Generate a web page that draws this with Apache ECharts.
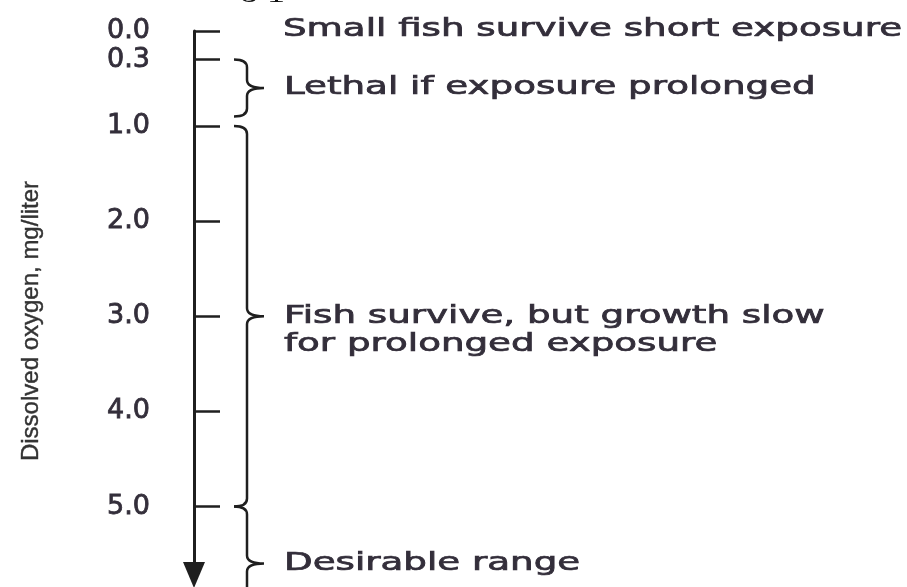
<!DOCTYPE html>
<html>
<head>
<meta charset="utf-8">
<script src="https://cdn.jsdelivr.net/npm/echarts@6/dist/echarts.min.js"></script>
<style>
  html, body { margin: 0; padding: 0; background: #fff; }
  #chart { width: 907px; height: 587px; }
</style>
</head>
<body>
<div id="chart"></div>
<script>
  // tick marks on the oxygen scale (mg/liter)
  var tickValues = [0, 0.3, 1, 2, 3, 4, 5];
  // bracketed ranges (last one is cut by the page edge)
  var rangeStart = [0.3, 1.0, 5.0];
  var rangeEnd = [0.9, 5.0, 6.2];
  var rangeNotes = [
    'Lethal if exposure prolonged',
    'Fish survive, but growth slow\nfor prolonged exposure',
    'Desirable range'
  ];
  var topNoteValue = 0;
  var topNote = 'Small fish survive short exposure';

  var textColor = '#332e3a';
  var lineColor = '#1f1f1f';
  var noteFont = { fontSize: 24, fontFamily: 'DejaVu Sans', lineHeight: 28 };
  var stretch = 1.55;

  var chart = echarts.init(document.getElementById('chart'));

  function noteStyle(text) {
    return {
      text: text, fill: textColor,
      stroke: textColor, lineWidth: 0.7,
      fontSize: noteFont.fontSize, fontFamily: noteFont.fontFamily,
      lineHeight: noteFont.lineHeight, align: 'left', verticalAlign: 'top'
    };
  }

  // draws one "}" bracket plus its note
  function renderBrace(params, api) {
    var a = api.coord([0, api.value(0)]);
    var b = api.coord([0, api.value(1)]);
    var ax = a[0];
    var y0 = a[1], y1 = b[1], ym = (y0 + y1) / 2;
    var x0 = ax + 40, x1 = ax + 53, x2 = ax + 70, r = 8;
    var d = 'M' + x0 + ' ' + y0 +
      ' Q' + x1 + ' ' + y0 + ' ' + x1 + ' ' + (y0 + r) +
      ' L' + x1 + ' ' + (ym - r) +
      ' Q' + x1 + ' ' + ym + ' ' + x2 + ' ' + ym +
      ' Q' + x1 + ' ' + ym + ' ' + x1 + ' ' + (ym + r) +
      ' L' + x1 + ' ' + (y1 - r) +
      ' Q' + x1 + ' ' + y1 + ' ' + x0 + ' ' + y1;
    return {
      type: 'group',
      children: [
        { type: 'path', shape: { pathData: d }, style: { fill: null, stroke: lineColor, lineWidth: 2.5 } },
        { type: 'text', x: ax + 90, y: ym - 14, scaleX: stretch, style: noteStyle(rangeNotes[params.dataIndex]) }
      ]
    };
  }

  function renderNote(params, api) {
    var p = api.coord([0, api.value(0)]);
    return { type: 'text', x: p[0] + 89, y: p[1] - 15, scaleX: stretch, style: noteStyle(topNote) };
  }

  var option = {
    animation: false,
    backgroundColor: '#ffffff',
    grid: { left: 194, top: 31, right: 20, bottom: 12 },
    graphic: [
      // page number cut off at the top of the scan
      { type: 'text', left: 240, top: -21, scaleX: 1.2,
        style: { text: '8 1', fontSize: 30, fontFamily: 'Liberation Serif', fill: '#111' } }
    ],
    xAxis: { type: 'value', min: 0, max: 1, show: false },
    yAxis: {
      type: 'value',
      inverse: true,
      min: 0,
      max: 5.72,
      name: 'Dissolved oxygen, mg/liter',
      nameLocation: 'middle',
      nameGap: 151,
      nameTextStyle: {
        fontSize: 24, fontFamily: 'Liberation Sans', color: '#333',
        textBorderColor: '#333', textBorderWidth: 0.4, padding: [0, 36, 0, 0]
      },
      axisLine: {
        show: true,
        symbol: ['triangle', 'none'],
        symbolSize: [22, 26],
        lineStyle: { color: lineColor, width: 3 }
      },
      axisTick: {
        show: true, inside: true, length: 26,
        customValues: tickValues,
        lineStyle: { color: lineColor, width: 2.5 }
      },
      axisLabel: {
        customValues: tickValues,
        margin: 44,
        color: textColor,
        textBorderColor: textColor,
        textBorderWidth: 0.8,
        fontSize: 27,
        fontFamily: 'DejaVu Sans',
        formatter: function (v) { return v.toFixed(1); }
      },
      splitLine: { show: false }
    },
    series: [
      {
        type: 'custom',
        clip: false,
        renderItem: renderBrace,
        encode: { y: [0, 1] },
        data: rangeStart.map(function (s, i) { return [s, rangeEnd[i]]; })
      },
      {
        type: 'custom',
        clip: false,
        renderItem: renderNote,
        encode: { y: 0 },
        data: [[topNoteValue]]
      }
    ]
  };
  chart.setOption(option);
</script>
</body>
</html>
